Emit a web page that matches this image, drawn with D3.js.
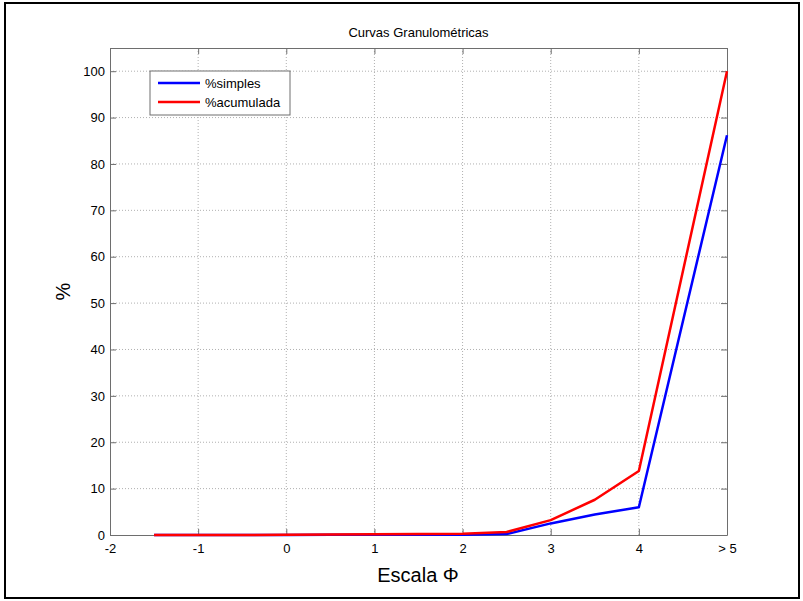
<!DOCTYPE html>
<html>
<head>
<meta charset="utf-8">
<script src="https://cdn.jsdelivr.net/npm/d3@7"></script>
<style>
  body { margin: 0; background: #fff; }
  svg { display: block; font-family: "Liberation Sans", Arial, sans-serif; }
</style>
</head>
<body>
<svg id="chart" width="803" height="601"></svg>
<script>
// --- DATA ---
const phi = [-1.5, -1, -0.5, 0, 0.5, 1, 1.5, 2, 2.5, 3, 3.5, 4, 5];
const simples = [0, 0, 0, 0, 0.05, 0.05, 0.05, 0.05, 0.2, 2.5, 4.4, 6.0, 86.2];
const acumulada = [0, 0, 0, 0.05, 0.1, 0.15, 0.2, 0.25, 0.65, 3.2, 7.6, 13.8, 100];
const xTicks = [-2, -1, 0, 1, 2, 3, 4, 5];
const xTickLabels = ["-2", "-1", "0", "1", "2", "3", "4", "> 5"];
const yTicks = [0, 10, 20, 30, 40, 50, 60, 70, 80, 90, 100];
const seriesNames = ["%simples", "%acumulada"];
const seriesColors = ["#0000ff", "#ff0000"];

// --- LAYOUT ---
const marginLeft = 110, marginRight = 76, marginTop = 48, marginBottom = 66;
const width = 803, height = 601;

const svg = d3.select("#chart");

// outer figure frame
svg.append("rect")
    .attr("x", 5).attr("y", 3)
    .attr("width", 794).attr("height", 595)
    .attr("fill", "none").attr("stroke", "#000").attr("stroke-width", 2);

const x = d3.scaleLinear().domain([-2, 5]).range([marginLeft, width - marginRight]);
const y = d3.scaleLinear().domain([0, 105]).range([height - marginBottom, marginTop]);

// grid (dotted)
const grid = svg.append("g").attr("stroke", "#b0b0b0").attr("stroke-dasharray", "1,2").attr("stroke-width", 1);
grid.selectAll("line.vx").data(xTicks.slice(1, -1)).join("line")
    .attr("x1", d => x(d)).attr("x2", d => x(d))
    .attr("y1", y.range()[0]).attr("y2", y.range()[1]);
grid.selectAll("line.hy").data(yTicks.slice(1)).join("line")
    .attr("x1", x.range()[0]).attr("x2", x.range()[1])
    .attr("y1", d => y(d)).attr("y2", d => y(d));

// axes, ticks pointing inward (matlab style)
const axisColor = "#6e6e6e";
const xb = svg.append("g")
    .attr("transform", `translate(0,${y(0)})`)
    .call(d3.axisBottom(x).tickValues(xTicks).tickFormat((d, i) => xTickLabels[i]).tickSizeInner(-6).tickSizeOuter(0).tickPadding(9));
const yl = svg.append("g")
    .attr("transform", `translate(${marginLeft},0)`)
    .call(d3.axisLeft(y).tickValues(yTicks).tickSizeInner(-6).tickSizeOuter(0).tickPadding(5));
const xt = svg.append("g")
    .attr("transform", `translate(0,${marginTop})`)
    .call(d3.axisTop(x).tickValues(xTicks).tickFormat("").tickSizeInner(-6).tickSizeOuter(0));
const yr = svg.append("g")
    .attr("transform", `translate(${width - marginRight},0)`)
    .call(d3.axisRight(y).tickValues(yTicks).tickFormat("").tickSizeInner(-6).tickSizeOuter(0));
[xb, yl, xt, yr].forEach(g => {
    g.selectAll(".domain").attr("stroke", axisColor);
    g.selectAll(".tick line").attr("stroke", axisColor);
    g.selectAll(".tick text").attr("fill", "#000").attr("font-size", 13)
        .attr("font-family", "'Liberation Sans', Arial, sans-serif");
});

// lines
const line = d3.line().x(d => x(d[0])).y(d => y(d[1]));
[simples, acumulada].forEach((vals, i) => {
    svg.append("path")
        .datum(phi.map((p, j) => [p, vals[j]]))
        .attr("fill", "none")
        .attr("stroke", seriesColors[i])
        .attr("stroke-width", 2.5)
        .attr("stroke-linejoin", "round")
        .attr("d", line);
});

// title + labels
svg.append("text").attr("x", x(1.5)).attr("y", 37).attr("text-anchor", "middle")
    .attr("font-size", 13).text("Curvas Granulométricas");
svg.append("text").attr("x", 418).attr("y", 582).attr("text-anchor", "middle")
    .attr("font-size", 20).text("Escala Φ");
svg.append("text").attr("transform", `translate(70,${(y(0) + y(105)) / 2}) rotate(-90)`)
    .attr("text-anchor", "middle").attr("font-size", 20).text("%");

// legend
const legend = svg.append("g").attr("transform", "translate(150,71)");
legend.append("rect").attr("width", 140).attr("height", 44)
    .attr("fill", "#fff").attr("stroke", axisColor);
seriesNames.forEach((name, i) => {
    const ly = 12 + i * 19;
    legend.append("line").attr("x1", 8).attr("x2", 50).attr("y1", ly).attr("y2", ly)
        .attr("stroke", seriesColors[i]).attr("stroke-width", 2.5);
    legend.append("text").attr("x", 55).attr("y", ly + 4.5).attr("font-size", 13).text(name);
});
</script>
</body>
</html>
